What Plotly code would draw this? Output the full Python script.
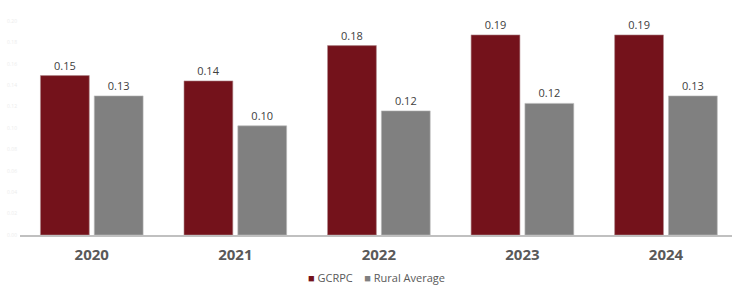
import plotly.graph_objects as go

years = ["2020", "2021", "2022", "2023", "2024"]
gcrpc = [0.149, 0.144, 0.177, 0.187, 0.187]
rural = [0.130, 0.102, 0.116, 0.123, 0.130]
ytick_vals = [0.00, 0.02, 0.04, 0.06, 0.08, 0.10, 0.12, 0.14, 0.16, 0.18, 0.20]

RED = "#74121b"
GRAY = "#808080"
FONT = "Open Sans"

fig = go.Figure()
fig.add_trace(go.Bar(
    x=years, y=gcrpc, name="GCRPC", marker=dict(color=RED, line=dict(width=0.6, color="#b08a8d")),
    text=[f"{v:.2f}" for v in gcrpc], textposition="outside", cliponaxis=False,
    textfont=dict(size=11, color="#404040", family=FONT),
))
fig.add_trace(go.Bar(
    x=years, y=rural, name="Rural Average", marker=dict(color=GRAY, line=dict(width=0.6, color="#b8b8b8")),
    text=[f"{v:.2f}" for v in rural], textposition="outside", cliponaxis=False,
    textfont=dict(size=11, color="#404040", family=FONT),
))

fig.update_layout(
    width=732, height=289,
    margin=dict(l=20, r=0, t=21, b=54, autoexpand=False),
    paper_bgcolor="white", plot_bgcolor="white",
    barmode="group", bargap=0.25, bargroupgap=0.093,
    font=dict(family=FONT, color="#595959"),
    showlegend=False,
    annotations=[dict(
        xref="paper", yref="paper", x=0.5, y=-0.2, xanchor="center", yanchor="middle",
        showarrow=False,
        text=(f"<span style='color:{RED}'>■</span> GCRPC&nbsp;&nbsp;&nbsp;&nbsp;"
              f"<span style='color:{GRAY}'>■</span> Rural Average"),
        font=dict(size=11, color="#595959", family=FONT),
    )],
)
fig.update_xaxes(
    type="category", range=[-0.5, 4.46], automargin=False,
    showline=True, linecolor="#c0c0c0", linewidth=1.5,
    ticks="", showgrid=False, ticklabelstandoff=5,
    tickfont=dict(size=15, color="#595959", family=FONT, weight="bold"),
)
fig.update_yaxes(
    range=[0, 0.2], tickvals=ytick_vals, tickformat=".2f", automargin=False,
    showgrid=False, zeroline=False, showline=False, ticks="",
    tickfont=dict(size=5, color="#ececec", family=FONT),
    ticklabelstandoff=2,
)

fig.write_html("out.html", config={"displayModeBar": False},
               post_script="document.body.style.margin='0';document.body.style.overflow='hidden';")
